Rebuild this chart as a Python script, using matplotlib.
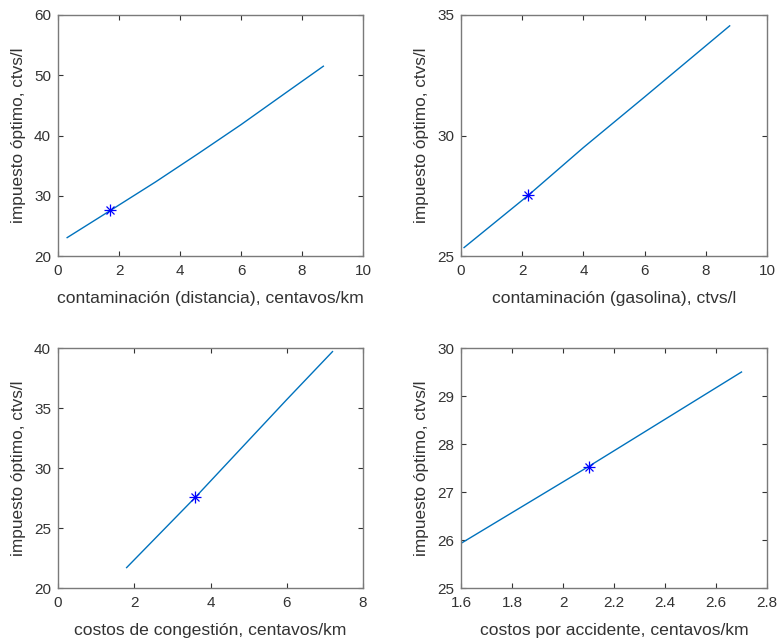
import matplotlib.pyplot as plt
import numpy as np

plt.rcParams['font.family'] = ['Liberation Sans', 'DejaVu Sans']

# Optimal tax vs. each externality parameter
dist_x = [0.3, 1.7, 3.2, 4.6, 6.0, 7.5, 8.7]
dist_y = [23.05, 27.5, 32.3, 37.0, 41.8, 47.2, 51.5]
dist_pt = (1.7, 27.6)

gas_x = [0.1, 2.2, 4.0, 6.0, 8.78]
gas_y = [25.35, 27.52, 29.5, 31.6, 34.55]
gas_pt = (2.2, 27.52)

cong_x = [1.8, 3.6, 6.0, 7.2]
cong_y = [21.7, 27.55, 35.7, 39.7]
cong_pt = (3.6, 27.55)

acc_x = [1.6, 2.1, 2.7]
acc_y = [25.93, 27.53, 29.5]
acc_pt = (2.1, 27.53)

xlabels = ['contaminación (distancia), centavos/km',
           'contaminación (gasolina), ctvs/l',
           'costos de congestión, centavos/km',
           'costos por accidente, centavos/km']
ylabel = 'impuesto óptimo, ctvs/l'

panels = [
    (dist_x, dist_y, dist_pt, (0, 10), np.arange(0, 11, 2), (20, 60), np.arange(20, 61, 10)),
    (gas_x, gas_y, gas_pt, (0, 10), np.arange(0, 11, 2), (25, 35), [25, 30, 35]),
    (cong_x, cong_y, cong_pt, (0, 8), np.arange(0, 9, 2), (20, 40), np.arange(20, 41, 5)),
    (acc_x, acc_y, acc_pt, (1.6, 2.8), [1.6, 1.8, 2.0, 2.2, 2.4, 2.6, 2.8], (25, 30), np.arange(25, 31, 1)),
]

# axes boxes in pixels: left, right, top, bottom
boxes = [(58, 363, 15, 256), (461, 767, 15, 256),
         (58, 363, 348, 588), (461, 767, 348, 588)]

W, H = 778, 643
fig = plt.figure(figsize=(W / 100, H / 100), dpi=100)

for (x, y, pt, xl, xt, yl, yt), (l, r, t, b), xlab in zip(panels, boxes, xlabels):
    ax = fig.add_axes([l / W, 1 - b / H, (r - l) / W, (b - t) / H])
    ax.plot(x, y, color='#0072BD', lw=1.0)
    # asterisk marker built from a plus and a cross
    ax.plot(pt[0], pt[1], '+', color='blue', markersize=8, markeredgewidth=0.9)
    ax.plot(pt[0], pt[1], 'x', color='blue', markersize=5.8, markeredgewidth=0.9)
    ax.set_xlim(*xl)
    ax.set_ylim(*yl)
    ax.set_xticks(xt)
    ax.set_yticks(yt)
    ax.set_xticklabels([f'{v:g}' for v in xt])
    ax.tick_params(direction='in', top=True, right=True, length=3.5,
                   width=0.8, labelsize=11, colors='#333333')
    ax.tick_params(axis='x', pad=6)
    ax.tick_params(axis='y', pad=5)
    for s in ax.spines.values():
        s.set_color('#7a7a7a')
        s.set_linewidth(1.0)
    ax.set_xlabel(xlab, fontsize=12.6, color='#333333', labelpad=9)
    ax.set_ylabel(ylabel, fontsize=12.4, color='#333333', labelpad=6)

fig.savefig('out.png', dpi=100)
